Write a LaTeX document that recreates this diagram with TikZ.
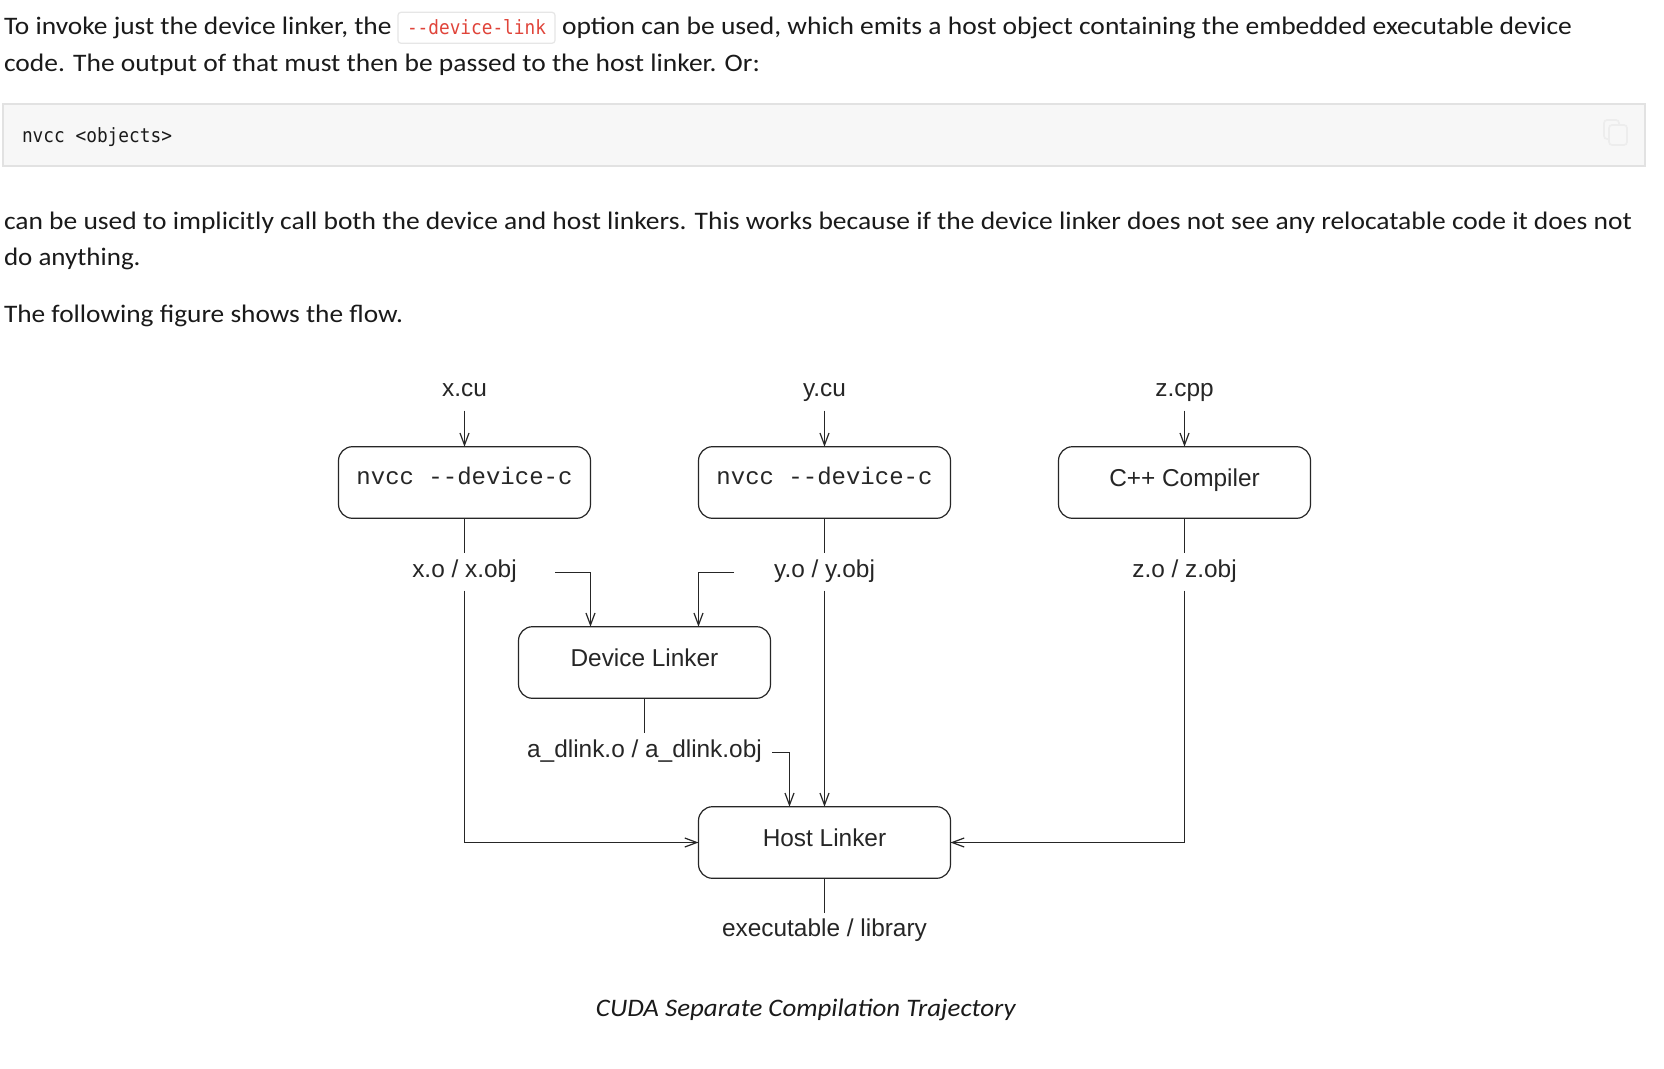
\documentclass[tikz,border=0pt]{standalone}
\usepackage{fontspec}
\usepackage{graphicx}
\setmainfont{Carlito}
\setmonofont{Liberation Mono}
\newfontfamily\diagfont{Liberation Sans}
\newfontfamily\codefont{DejaVu Sans Mono}
\usetikzlibrary{arrows.meta,calc}
\definecolor{txt}{HTML}{1A1A1A}
\definecolor{codebg}{HTML}{F7F7F7}
\definecolor{codeborder}{HTML}{E2E2E2}
\definecolor{inlinered}{HTML}{E0443A}
\definecolor{inlineborder}{HTML}{E6E6E6}
\definecolor{linec}{HTML}{262626}
\definecolor{iconc}{HTML}{EDEDED}
\newcommand\bodyfs{\fontsize{12.6pt}{15pt}\selectfont}
\newcommand\diagfs{\diagfont\fontsize{12.2pt}{14pt}\selectfont}
\newcommand\monofs{\ttfamily\fontsize{12pt}{14pt}\selectfont}
\newcommand\codefs{\codefont\fontsize{9.8pt}{12pt}\selectfont}
\newcommand\hy{\mbox{-}}
\begin{document}
\begin{tikzpicture}[x=0.5pt,y=-0.5pt,
  every node/.style={inner sep=0pt, outer sep=0pt},
  body/.style={anchor=base west, text=txt, font=\bodyfs},
  proc/.style={draw=linec, line width=0.6pt, rounded corners=7pt,
    minimum width=126pt, minimum height=35.8pt, text=linec, font=\diagfs,
    text height=10pt, text depth=5.8pt},
  procmono/.style={proc, font=\monofs, text height=8.5pt, text depth=7pt},
  lbl/.style={anchor=base, text=linec, font=\diagfs},
  flow/.style={draw=linec, line width=0.6pt},
  arr/.style={flow, -{Straight Barb[length=6pt,width=4.5pt]}},
]
\useasboundingbox (0,0) rectangle (1664,1069);
\fill[white] (0,0) rectangle (1664,1069);

% ---------- page text ----------
\draw[draw=inlineborder, fill=white, line width=0.6pt, rounded corners=1.5pt] (398,12.3) rectangle (555,43.3);
\node[body] (l1a) at (4,35) {\resizebox{193.75pt}{\height}{To invoke just the device linker, the}};
\node[anchor=base west, text=inlinered, font=\codefs] (l1c) at (407,35) {\resizebox{69.5pt}{\height}{\hy\hy device\hy link}};
\node[body] (l1b) at (562,35) {\resizebox{505pt}{\height}{option can be used, which emits a host object containing the embedded executable device}};
\node[body] (l2) at (4,72) {\resizebox{378pt}{\height}{code. The output of that must then be passed to the host linker. Or:}};

\draw[draw=codeborder, fill=codebg, line width=0.7pt] (3,104) rectangle (1645,166);
\node[anchor=base west, text=txt, font=\codefs] (code) at (22,143) {\resizebox{75pt}{\height}{nvcc <objects>}};
% faint copy icon
\draw[iconc, line width=0.8pt, rounded corners=1.5pt] (1604,120) rectangle (1619,139);
\draw[iconc, line width=0.8pt, fill=codebg, rounded corners=1.5pt] (1609,125) rectangle (1627,145);

\node[body] (p1) at (4,230) {\resizebox{814pt}{\height}{can be used to implicitly call both the device and host linkers. This works because if the device linker does not see any relocatable code it does not}};
\node[body] (p2) at (4,266) {\resizebox{68.3pt}{\height}{do anything.}};
\node[body] (p3) at (4,323) {\resizebox{199.5pt}{\height}{The following figure shows the flow.}};

% ---------- diagram ----------
\node[lbl, text height=12pt, text depth=7.35pt] (xcu) at (464.5,396) {x.cu};
\node[lbl, text height=12pt, text depth=7.35pt] (ycu) at (824.5,396) {y.cu};
\node[lbl, text height=12pt, text depth=7.35pt] (zcpp) at (1184.5,396) {z.cpp};

\node[procmono] (nv1) at (464.5,482.5) {nvcc \hy\hy device\hy c};
\node[procmono] (nv2) at (824.5,482.5) {nvcc \hy\hy device\hy c};
\node[proc] (cpp) at (1184.5,482.5) {C++ Compiler};

\node[lbl, text height=12pt, text depth=6.85pt] (xo) at (464.5,577) {x.o / x.obj};
\node[lbl, text height=12pt, text depth=6.85pt] (yo) at (824.5,577) {y.o / y.obj};
\node[lbl, text height=12pt, text depth=6.85pt] (zo) at (1184.5,577) {z.o / z.obj};

\node[proc] (dl) at (644.5,662.5) {Device Linker};
\node[lbl, text height=12pt, text depth=7pt] (adl) at (644.5,757) {a\_dlink.o / a\_dlink.obj};

\node[proc] (host) at (824.5,842.5) {Host Linker};
\node[lbl, text height=11.5pt, text depth=3pt] (exec) at (824.5,936) {executable / library};

\coordinate (xoR) at (555,572.5);
\coordinate (yoL) at (734,572.5);
\coordinate (dlA) at ($(dl.north)+(-54,0)$);
\coordinate (dlB) at ($(dl.north)+(54,0)$);
\coordinate (adlR) at (772,752.5);
\coordinate (hostA) at ($(host.north)+(-35,0)$);

\draw[arr] (xcu) -- (nv1);
\draw[arr] (ycu) -- (nv2);
\draw[arr] (zcpp) -- (cpp);

\draw[flow] (nv1) -- (xo);
\draw[flow] (nv2) -- (yo);
\draw[flow] (cpp) -- (zo);

\draw[arr] (xoR) -| (dlA);
\draw[arr] (yoL) -| (dlB);

\draw[arr] (xo.south) |- (host.west);
\draw[arr] (yo) -- (host);
\draw[arr] (zo.south) |- (host.east);

\draw[flow] (dl) -- (adl);
\draw[arr] (adlR) -| (hostA);

\draw[flow] (host) -- (exec);

\node[anchor=base, text=txt, font=\bodyfs\itshape] (cap) at (805.8,1016.5) {\resizebox{209.8pt}{\height}{CUDA Separate Compilation Trajectory}};
\end{tikzpicture}
\end{document}
